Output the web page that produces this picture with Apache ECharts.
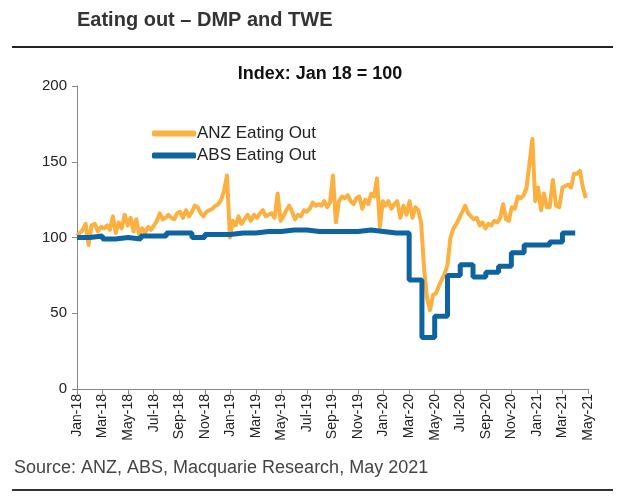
<!DOCTYPE html>
<html>
<head>
<meta charset="utf-8">
<script src="https://cdn.jsdelivr.net/npm/echarts@6/dist/echarts.min.js"></script>
<style>
  html, body { margin: 0; padding: 0; background: #fff; }
  #chart { width: 630px; height: 499px; }
</style>
</head>
<body>
<div id="chart"></div>
<script>
// tick labels on the x axis, every 2 months from Jan-18
const tickLabels = [
  'Jan-18', 'Mar-18', 'May-18', 'Jul-18', 'Sep-18', 'Nov-18',
  'Jan-19', 'Mar-19', 'May-19', 'Jul-19', 'Sep-19', 'Nov-19',
  'Jan-20', 'Mar-20', 'May-20', 'Jul-20', 'Sep-20', 'Nov-20',
  'Jan-21', 'Mar-21', 'May-21'
];

// ANZ Eating Out, weekly from 1 Jan 2018
const anzStart = '2018-01-01';
const anzValues = [
  101, 103, 105, 109, 95,
  108, 109, 104, 107,
  106, 108, 105, 114, 103,
  110, 106, 115, 108,
  113, 104, 112, 102,
  106, 103, 107, 105, 108,
  111, 116, 112, 113,
  115, 113, 112, 116,
  117, 113, 118, 114, 117,
  121, 120, 116, 114,
  117, 118, 119, 121,
  122, 125, 131, 141, 100,
  111, 108, 114, 109,
  112, 115, 111, 115,
  113, 116, 118, 114, 115,
  116, 113, 129, 111,
  114, 118, 121, 117,
  112, 115, 114, 118, 117,
  119, 123, 121, 122,
  121, 124, 120, 123,
  141, 110, 124, 127, 126,
  128, 124, 122, 126,
  127, 119, 125, 122,
  129, 127, 139, 107, 124,
  121, 124, 119, 122,
  124, 113, 121, 115, 124,
  113, 120, 118, 110,
  80, 60, 52, 62,
  63, 68, 72, 76, 82,
  100, 106, 109, 113,
  117, 121, 116, 114,
  112, 113, 108, 110, 106,
  109, 108, 111, 110,
  113, 122, 112, 111,
  120, 119, 127, 126, 128,
  133, 149, 165, 124,
  133, 118, 129, 120,
  120, 138, 121, 120, 133,
  134, 135, 133, 142,
  142, 144, 133, 126
];

// ABS Eating Out, monthly Jan-18 .. Mar-21
const absValues = [
  100, 101, 99, 100, 99, 101, 101, 103, 103, 100, 102, 102,
  103, 103, 104, 104, 105, 105, 104, 104, 104, 104, 105, 104,
  103, 103, 72, 34, 48, 75, 82, 74, 77, 81, 90, 95,
  95, 97, 103
];

const yTicks = [0, 50, 100, 150, 200];

// months since Jan 2018, fractional
function monthPos(d) {
  const days = new Date(Date.UTC(d.getUTCFullYear(), d.getUTCMonth() + 1, 0)).getUTCDate();
  return (d.getUTCFullYear() - 2018) * 12 + d.getUTCMonth() + (d.getUTCDate() - 1) / days;
}

const t0 = new Date(anzStart + 'T00:00:00Z').getTime();
const anzData = anzValues.map(function (v, i) {
  return [monthPos(new Date(t0 + i * 7 * 86400000)), v];
});
const absData = absValues.map(function (v, i) { return [i, v]; });
// hold the last month to its end
absData.push([absValues.length, absValues[absValues.length - 1]]);

const chart = echarts.init(document.getElementById('chart'));
const option = {
  animation: false,
  textStyle: { fontFamily: 'Liberation Sans, Arial, sans-serif' },
  title: [
    {
      text: 'Eating out – DMP and TWE',
      left: 77, top: 10, padding: 0,
      textStyle: { fontSize: 20, fontWeight: 'bold', color: '#333' }
    },
    {
      text: 'Index: Jan 18 = 100',
      left: 320, top: 65, padding: 0, textAlign: 'center',
      textStyle: { fontSize: 18, fontWeight: 'bold', color: '#111' }
    },
    {
      text: 'Source: ANZ, ABS, Macquarie Research, May 2021',
      left: 14, top: 459, padding: 0,
      textStyle: { fontSize: 18, fontWeight: 'normal', color: '#444' }
    }
  ],
  graphic: [
    { type: 'line', shape: { x1: 12, y1: 47, x2: 613, y2: 47 }, style: { stroke: '#222', lineWidth: 2 } },
    { type: 'line', shape: { x1: 12, y1: 490, x2: 613, y2: 490 }, style: { stroke: '#333', lineWidth: 2 } }
  ],
  legend: {
    orient: 'vertical',
    left: 147, top: 120,
    itemWidth: 44, itemHeight: 6, itemGap: 5,
    icon: 'roundRect',
    textStyle: { fontSize: 17, color: '#222', padding: [0, 0, 0, -4] },
    data: ['ANZ Eating Out', 'ABS Eating Out']
  },
  grid: { left: 77, right: 42, top: 86, bottom: 110 },
  xAxis: {
    type: 'value',
    min: 0, max: 40, interval: 2,
    splitLine: { show: false },
    axisLine: { show: true, lineStyle: { color: '#888' } },
    axisTick: { show: true, length: 5, lineStyle: { color: '#888' } },
    axisLabel: {
      rotate: 90, fontSize: 14, color: '#222', margin: 5,
      formatter: function (v) { return tickLabels[Math.round(v / 2)] || ''; }
    }
  },
  yAxis: {
    type: 'value',
    min: yTicks[0], max: yTicks[yTicks.length - 1], interval: 50,
    splitLine: { show: false },
    axisLine: { show: true, lineStyle: { color: '#888' } },
    axisTick: { show: true, length: 5, lineStyle: { color: '#888' } },
    axisLabel: { fontSize: 15, color: '#222', margin: 10 }
  },
  series: [
    {
      name: 'ANZ Eating Out',
      type: 'line',
      data: anzData,
      showSymbol: false,
      color: '#FBB040',
      lineStyle: { width: 4, color: '#FBB040', join: 'round' },
      z: 2
    },
    {
      name: 'ABS Eating Out',
      type: 'line',
      step: 'end',
      data: absData,
      showSymbol: false,
      color: '#0E64A0',
      lineStyle: { width: 5, color: '#0E64A0' },
      z: 3
    }
  ]
};
chart.setOption(option);
</script>
</body>
</html>
